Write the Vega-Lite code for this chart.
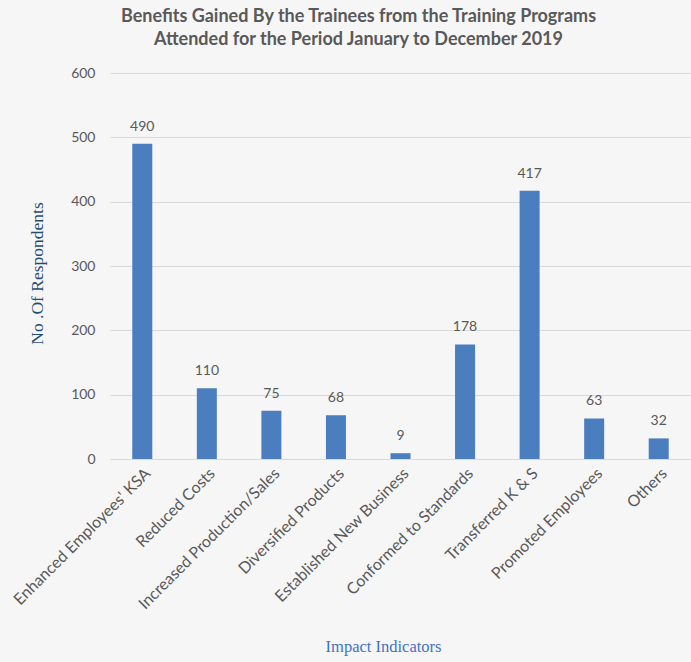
{
  "$schema": "https://vega.github.io/schema/vega-lite/v6.json",
  "autosize": "none",
  "width": 581,
  "height": 386,
  "padding": {"left": 110, "top": 73, "right": 0, "bottom": 203},
  "background": "#f6f6f6",
  "title": {
    "text": ["Benefits Gained By the Trainees from the Training Programs", "Attended for the Period January to December 2019"],
    "font": "Lato",
    "fontSize": 18,
    "fontWeight": "bold",
    "color": "#595959",
    "lineHeight": 23,
    "anchor": "middle",
    "dx": -42,
    "offset": 17
  },
  "data": {
    "values": [
      {"indicator": "Enhanced Employees' KSA", "count": 490},
      {"indicator": "Reduced Costs", "count": 110},
      {"indicator": "Increased Production/Sales", "count": 75},
      {"indicator": "Diversified Products", "count": 68},
      {"indicator": "Established New Business", "count": 9},
      {"indicator": "Conformed to Standards", "count": 178},
      {"indicator": "Transferred K & S", "count": 417},
      {"indicator": "Promoted Employees", "count": 63},
      {"indicator": "Others", "count": 32}
    ]
  },
  "encoding": {
    "x": {
      "field": "indicator",
      "type": "nominal",
      "sort": null,
      "scale": {"paddingInner": 0.69, "paddingOuter": 0.345},
      "axis": {
        "title": "Impact Indicators",
        "titleFont": "Liberation Serif",
        "titleFontSize": 16.5,
        "titleFontWeight": "normal",
        "titleColor": "#4472c4",
        "titleX": 273,
        "titleY": 187,
        "titleBaseline": "middle",
        "titleAnchor": "middle",
        "labelAngle": -45,
        "labelFont": "Lato",
        "labelFontSize": 16,
        "labelColor": "#595959",
        "labelPadding": 6,
        "ticks": false,
        "domainColor": "#d9d9d9",
        "labelLimit": 300
      }
    },
    "y": {
      "field": "count",
      "type": "quantitative",
      "scale": {"domain": [0, 600]},
      "axis": {
        "values": [0, 100, 200, 300, 400, 500, 600],
        "title": "No .Of Respondents",
        "titleFont": "Liberation Serif",
        "titleFontSize": 17.5,
        "titleFontWeight": "normal",
        "titleColor": "#1f4e79",
        "titleAngle": -90,
        "titleX": -73,
        "titleY": 200,
        "titleBaseline": "middle",
        "titleAlign": "center",
        "labelFont": "Lato",
        "labelFontSize": 14,
        "labelColor": "#595959",
        "labelPadding": 15,
        "ticks": false,
        "domain": false,
        "gridColor": "#d9d9d9"
      }
    }
  },
  "layer": [
    {"mark": {"type": "bar", "color": "#4a7ebf"}},
    {
      "mark": {"type": "text", "dy": -10, "baseline": "bottom", "font": "Lato", "fontSize": 14, "color": "#595959"},
      "encoding": {"text": {"field": "count", "type": "quantitative"}}
    }
  ],
  "config": {"view": {"stroke": null}}
}
